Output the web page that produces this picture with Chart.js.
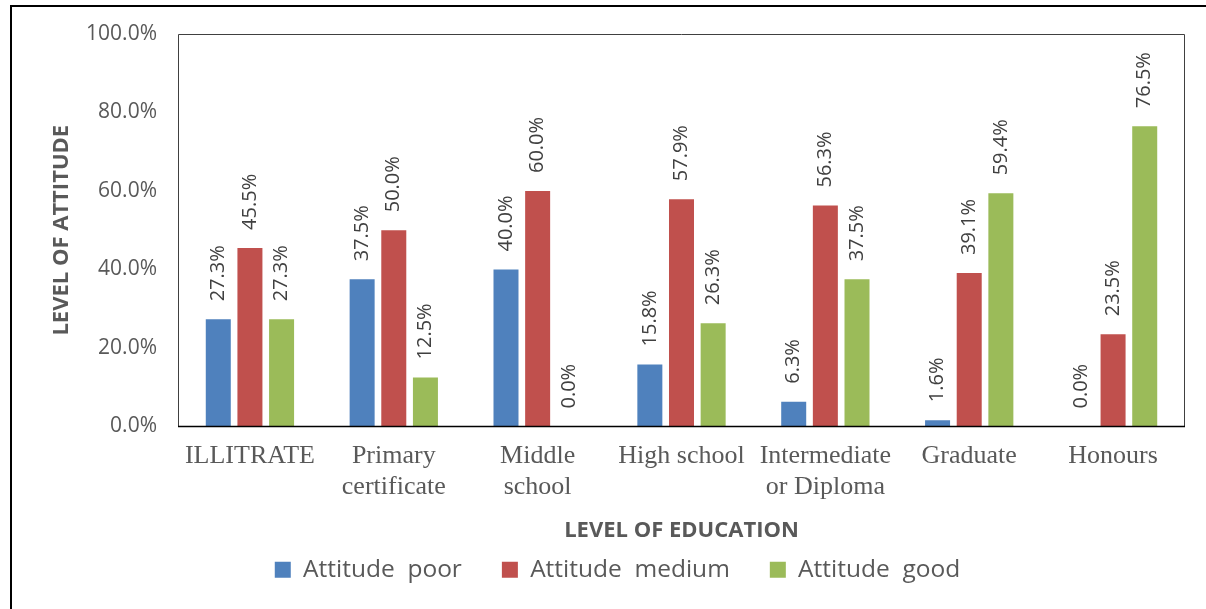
<!DOCTYPE html>
<html>
<head>
<meta charset="utf-8">
<script src="https://cdn.jsdelivr.net/npm/chart.js@4/dist/chart.umd.min.js"></script>
<style>
  html, body { margin: 0; padding: 0; background: #ffffff; }
  #wrap { width: 1206px; height: 609px; position: relative; }
</style>
</head>
<body>
<div id="wrap"><canvas id="chart"></canvas></div>
<script>
// Education levels (x axis)
const categories = [
  'ILLITRATE',
  ['Primary', 'certificate'],
  ['Middle', 'school'],
  'High school',
  ['Intermediate', 'or Diploma'],
  'Graduate',
  'Honours'
];

// Share of respondents per attitude level (%)
const attitudePoor   = [27.3, 37.5, 40.0, 15.8, 6.3, 1.6, 0.0];
const attitudeMedium = [45.5, 50.0, 60.0, 57.9, 56.3, 39.1, 23.5];
const attitudeGood   = [27.3, 12.5, 0.0, 26.3, 37.5, 59.4, 76.5];

const seriesNames = ['Attitude  poor', 'Attitude  medium', 'Attitude  good'];

// Y axis tick values (%)
const yTicks = [0, 20, 40, 60, 80, 100];

const fmtPct = v => Number(v).toFixed(1) + '%';

// Outer frame and plot-area box
const framePlugin = {
  id: 'frame',
  beforeDraw(chart) {
    const ctx = chart.ctx;
    ctx.save();
    ctx.fillStyle = '#ffffff';
    ctx.fillRect(0, 0, chart.width, chart.height);
    ctx.strokeStyle = '#000000';
    ctx.lineWidth = 2;
    ctx.beginPath();
    ctx.moveTo(11, chart.height);
    ctx.lineTo(11, 6);
    ctx.lineTo(chart.width, 6);
    ctx.stroke();
    ctx.restore();
  },
  afterDraw(chart) {
    const a = chart.chartArea;
    const ctx = chart.ctx;
    ctx.save();
    ctx.strokeStyle = '#404040';
    ctx.lineWidth = 1;
    ctx.beginPath();
    ctx.moveTo(a.left + 0.5, a.bottom);
    ctx.lineTo(a.left + 0.5, a.top + 0.5);
    ctx.lineTo(a.right - 0.5, a.top + 0.5);
    ctx.lineTo(a.right - 0.5, a.bottom);
    ctx.stroke();
    ctx.strokeStyle = '#000000';
    ctx.lineWidth = 1.5;
    ctx.beginPath();
    ctx.moveTo(a.left, a.bottom);
    ctx.lineTo(a.right, a.bottom);
    ctx.stroke();
    ctx.restore();
  }
};

// Vertical value labels above each bar
const valueLabels = {
  id: 'valueLabels',
  afterDatasetsDraw(chart) {
    const ctx = chart.ctx;
    ctx.save();
    ctx.font = '20px "Open Sans"';
    ctx.fillStyle = '#404040';
    ctx.textAlign = 'left';
    ctx.textBaseline = 'middle';
    chart.data.datasets.forEach((ds, di) => {
      const meta = chart.getDatasetMeta(di);
      meta.data.forEach((bar, i) => {
        ctx.save();
        ctx.translate(bar.x, bar.y - 18);
        ctx.rotate(-Math.PI / 2);
        ctx.fillText(fmtPct(ds.data[i]), 0, 0);
        ctx.restore();
      });
    });
    ctx.restore();
  }
};

new Chart(document.getElementById('chart'), {
  type: 'bar',
  data: {
    labels: categories,
    datasets: [
      { label: seriesNames[0], data: attitudePoor,   backgroundColor: '#4F81BD' },
      { label: seriesNames[1], data: attitudeMedium, backgroundColor: '#C0504D' },
      { label: seriesNames[2], data: attitudeGood,   backgroundColor: '#9BBB59' }
    ]
  },
  options: {
    responsive: true,
    maintainAspectRatio: false,
    animation: false,
    devicePixelRatio: 1,
    categoryPercentage: 0.66,
    barPercentage: 0.79,
    layout: { padding: { top: 34, right: 21, bottom: 17, left: 50 } },
    plugins: {
      legend: {
        position: 'bottom',
        labels: {
          boxWidth: 16,
          boxHeight: 16,
          padding: 40,
          color: '#595959',
          font: { family: '"Open Sans"', size: 24.5 }
        }
      },
      tooltip: { enabled: false }
    },
    scales: {
      x: {
        grid: { display: false, drawTicks: false },
        border: { display: false },
        ticks: {
          padding: 14,
          color: '#595959',
          maxRotation: 0,
          autoSkip: false,
          font: { family: '"Liberation Serif"', size: 26, lineHeight: 1.2 }
        },
        title: {
          display: true,
          text: 'LEVEL OF EDUCATION',
          color: '#595959',
          font: { family: '"Open Sans"', size: 22, weight: 'bold', lineHeight: 1.2 },
          padding: { top: 0, bottom: -26 }
        },
        afterFit(scale) { scale.height = 91; }
      },
      y: {
        min: 0,
        max: 100,
        afterBuildTicks(scale) { scale.ticks = yTicks.map(v => ({ value: v })); },
        grid: { display: false, drawTicks: false },
        border: { display: false },
        ticks: {
          padding: 21,
          color: '#595959',
          font: { family: '"Open Sans"', size: 21 },
          callback: v => fmtPct(v)
        },
        title: {
          display: true,
          text: 'LEVEL OF ATTITUDE',
          color: '#595959',
          font: { family: '"Open Sans"', size: 22, weight: 'bold', lineHeight: 1.2 },
          padding: { top: -1, bottom: 0 }
        },
        afterFit(scale) { scale.width = 128; }
      }
    }
  },
  plugins: [framePlugin, valueLabels]
});
</script>
</body>
</html>
